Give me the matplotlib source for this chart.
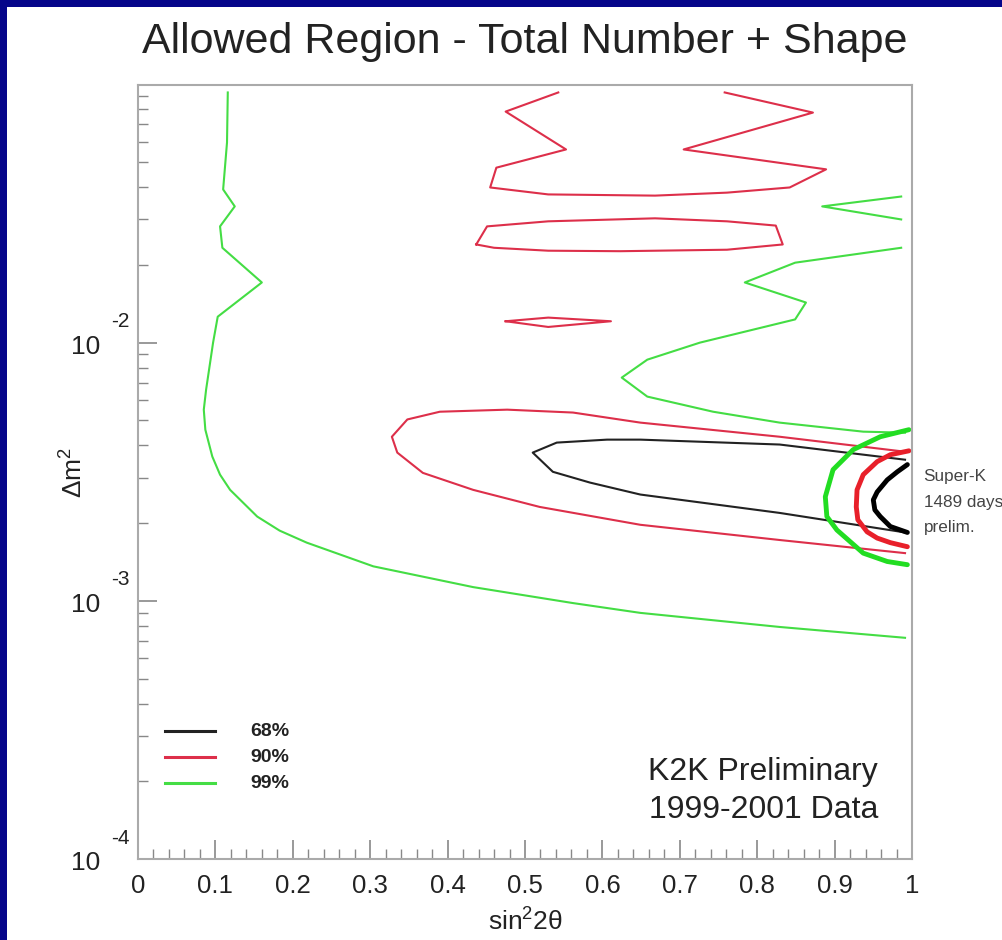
import matplotlib
matplotlib.use("Agg")
import matplotlib.pyplot as plt
import matplotlib.transforms as mtransforms
from matplotlib.patches import Rectangle
from matplotlib.ticker import MultipleLocator, LogLocator, NullFormatter

plt.rcParams["font.family"] = ["Liberation Sans", "DejaVu Sans"]
plt.rcParams["mathtext.fontset"] = "custom"
plt.rcParams["mathtext.rm"] = "Liberation Sans"
plt.rcParams["mathtext.it"] = "Liberation Sans:italic"

# K2K thin contours (sin^2 2theta, dm^2)
k2k_68_x = [0.991, 0.829, 0.649, 0.606, 0.541, 0.510, 0.536, 0.584, 0.649, 0.829, 0.991]
k2k_68_y = [0.00352, 0.00403, 0.00421, 0.00421, 0.00410, 0.00375, 0.00316, 0.00287, 0.00258, 0.00219, 0.00184]

k2k_90_x = [0.991, 0.829, 0.649, 0.562, 0.477, 0.390, 0.348, 0.328, 0.335, 0.368, 0.433, 0.519, 0.649, 0.829, 0.991]
k2k_90_y = [0.00378, 0.00432, 0.00490, 0.00536, 0.00550, 0.00540, 0.00504, 0.00432, 0.00375, 0.00313, 0.00269, 0.00231, 0.00197, 0.00172, 0.00153]

k2k_90_top_x = [0.543, 0.475, 0.553, 0.463, 0.455, 0.530, 0.668, 0.761, 0.842, 0.889, 0.705, 0.872, 0.758]
k2k_90_top_y = [0.0931, 0.0785, 0.0560, 0.0476, 0.0399, 0.0375, 0.0371, 0.0381, 0.0399, 0.0469, 0.0560, 0.0778, 0.0931]

k2k_90_mid_x = [0.437, 0.451, 0.530, 0.668, 0.761, 0.824, 0.833, 0.761, 0.623, 0.530, 0.460, 0.437]
k2k_90_mid_y = [0.0240, 0.0282, 0.0295, 0.0303, 0.0295, 0.0284, 0.0240, 0.0229, 0.0226, 0.0227, 0.0233, 0.0240]

k2k_90_small_x = [0.475, 0.530, 0.611, 0.530, 0.475]
k2k_90_small_y = [0.0121, 0.0125, 0.0121, 0.0115, 0.0121]

k2k_99_x = [0.116, 0.115, 0.110, 0.125, 0.106, 0.109, 0.160, 0.103, 0.097, 0.088, 0.085, 0.087, 0.096, 0.106,
            0.119, 0.154, 0.183, 0.218, 0.304, 0.433, 0.562, 0.649, 0.829, 0.991]
k2k_99_y = [0.0931, 0.0596, 0.0392, 0.0337, 0.0282, 0.0233, 0.0171, 0.0126, 0.0100, 0.00658, 0.00550, 0.00460, 0.00362, 0.00308,
            0.00269, 0.00212, 0.00187, 0.00168, 0.00136, 0.00113, 0.00098, 0.000898, 0.000792, 0.000719]

k2k_99_inner_x = [0.986, 0.849, 0.784, 0.863, 0.849, 0.726, 0.658, 0.625, 0.658, 0.743, 0.829, 0.937, 0.991]
k2k_99_inner_y = [0.0233, 0.0204, 0.0171, 0.0143, 0.0123, 0.0100, 0.00859, 0.00732, 0.00618, 0.00540, 0.00490, 0.00452, 0.00448]

k2k_99_wedge_x = [0.986, 0.884, 0.986]
k2k_99_wedge_y = [0.0368, 0.0337, 0.0300]

# Super-K preliminary contours (thick)
sk_99_x = [0.996, 0.959, 0.924, 0.898, 0.888, 0.890, 0.903, 0.937, 0.968, 0.994]
sk_99_y = [0.00460, 0.00432, 0.00385, 0.00322, 0.00253, 0.00212, 0.00188, 0.00153, 0.00142, 0.00138]
sk_90_x = [0.996, 0.972, 0.955, 0.937, 0.929, 0.928, 0.930, 0.942, 0.955, 0.972, 0.994]
sk_90_y = [0.00381, 0.00368, 0.00346, 0.00308, 0.00269, 0.00231, 0.00206, 0.00185, 0.00175, 0.00168, 0.00162]
sk_68_x = [0.994, 0.981, 0.968, 0.955, 0.950, 0.952, 0.959, 0.972, 0.994]
sk_68_y = [0.00337, 0.00316, 0.00294, 0.00264, 0.00246, 0.00225, 0.00212, 0.00194, 0.00184]

y_ticks = [1e-4, 1e-3, 1e-2]
y_exps = ["-4", "-3", "-2"]
levels = ["68%", "90%", "99%"]

c68 = "#222222"
c90 = "#dd2f4a"
c99 = "#44dd44"
sk90 = "#e8202a"
sk99 = "#22dd22"

fig = plt.figure(figsize=(10.03, 9.40), dpi=100)
fig.patch.set_facecolor("#05058a")
fig.patches.append(Rectangle((7 / 1003, 0), 1, 1 - 7 / 940, transform=fig.transFigure,
                             facecolor="white", edgecolor="none", zorder=-5))

ax = fig.add_axes([138 / 1003, 81 / 940, 774 / 1003, 774 / 940])
ax.set_facecolor("none")
ax.set_yscale("log")
ax.set_xlim(0, 1)
ax.set_ylim(1e-4, 0.0995)

lw = 1.5
ax.plot(k2k_99_x, k2k_99_y, color=c99, lw=lw)
ax.plot(k2k_99_inner_x, k2k_99_inner_y, color=c99, lw=lw)
ax.plot(k2k_99_wedge_x, k2k_99_wedge_y, color=c99, lw=lw)
ax.plot(k2k_90_x, k2k_90_y, color=c90, lw=lw)
ax.plot(k2k_90_top_x, k2k_90_top_y, color=c90, lw=lw)
ax.plot(k2k_90_mid_x, k2k_90_mid_y, color=c90, lw=lw)
ax.plot(k2k_90_small_x, k2k_90_small_y, color=c90, lw=lw)
ax.plot(k2k_68_x, k2k_68_y, color=c68, lw=lw)

for sx, sy, col in [(sk_99_x, sk_99_y, sk99), (sk_90_x, sk_90_y, sk90), (sk_68_x, sk_68_y, "black")]:
    ax.plot(sx, sy, color=col, lw=3.5, solid_capstyle="round", solid_joinstyle="round", clip_on=False)

# frame and ticks
for s in ax.spines.values():
    s.set_color("#aaaaaa")
    s.set_linewidth(1.5)
ax.tick_params(which="both", direction="in", colors="#888888", top=False, right=False)
ax.tick_params(which="major", length=14, width=1.2)
ax.tick_params(which="minor", length=7, width=1.0)
ax.set_xticks([i / 10 for i in range(11)])
ax.xaxis.set_minor_locator(MultipleLocator(0.02))
ax.set_xticklabels(["0"] + ["%.1f" % (i / 10) for i in range(1, 10)] + ["1"])
ax.tick_params(axis="x", labelsize=18.5, labelcolor="#222222", pad=11)

ax.yaxis.set_major_locator(LogLocator(base=10, numticks=10))
ax.yaxis.set_minor_locator(LogLocator(base=10, subs=range(2, 10), numticks=20))
ax.yaxis.set_major_formatter(NullFormatter())
ax.yaxis.set_minor_formatter(NullFormatter())

trans = mtransforms.blended_transform_factory(ax.transAxes, ax.transData)
for t, e in zip(y_ticks, y_exps):
    ax.text(-0.049, t, "10", transform=mtransforms.offset_copy(trans, fig=fig, y=-3, units="points"),
            ha="right", va="center", fontsize=19, color="#222222")
    ax.text(-0.035, t, e, transform=mtransforms.offset_copy(trans, fig=fig, y=15, units="points"),
            ha="left", va="center", fontsize=15, color="#222222")

ax.text(0.5, -0.082, "sin$^{2}$2θ", transform=ax.transAxes, ha="center", va="center",
        fontsize=19, color="#222222")
ax.text(-0.083, 0.499, "Δm$^{2}$", transform=ax.transAxes, ha="center", va="center",
        rotation=90, fontsize=19, color="#222222")

# legend
for i, (lab, col) in enumerate(zip(levels, [c68, c90, c99])):
    yy = 0.165 - i * 0.0335
    ax.plot([0.035, 0.099], [yy, yy], color=col, lw=2.2, transform=ax.transAxes)
    ax.text(0.145, yy, lab, transform=ax.transAxes, ha="left", va="center",
            fontsize=14, fontweight="bold", color="#222222")

ax.text(0.956, 0.112, "K2K Preliminary", transform=ax.transAxes, ha="right", va="center",
        fontsize=23, color="#222222")
ax.text(0.956, 0.063, "1999-2001 Data", transform=ax.transAxes, ha="right", va="center",
        fontsize=23, color="#222222")

for i, s in enumerate(["Super-K", "1489 days", "prelim."]):
    ax.text(1.015, 0.494 - i * 0.033, s, transform=ax.transAxes, ha="left", va="center",
            fontsize=12.3, color="#444444", clip_on=False)

fig.text(0.523, 0.955, "Allowed Region - Total Number + Shape", ha="center", va="center",
         fontsize=31, color="#222222")

fig.savefig("out.png", dpi=100, facecolor=fig.get_facecolor())
